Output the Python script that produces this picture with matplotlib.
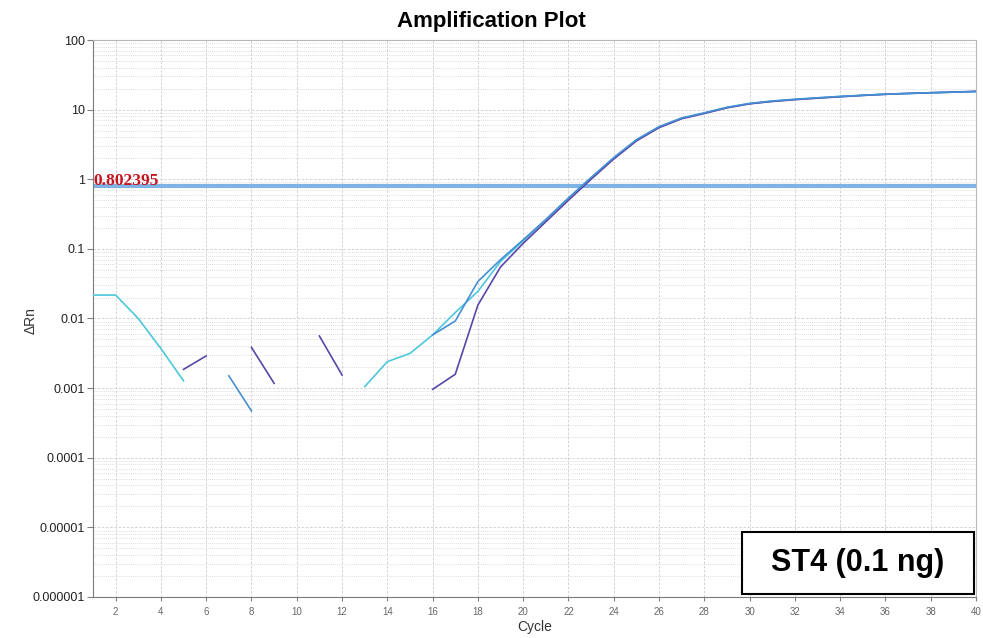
import numpy as np
import matplotlib
matplotlib.use("Agg")
import matplotlib.pyplot as plt
from matplotlib import ticker
from matplotlib.patches import Rectangle
from matplotlib import font_manager

nan = np.nan

cycles = list(range(1, 41))

# delta Rn per cycle; nan where the baseline-corrected value was <= 0
well_a = [0.0217, 0.0217, 0.0100, 0.0037, 0.00127, nan, nan, nan, nan, nan,
          nan, nan, 0.00105, 0.0024, 0.00315, 0.0058, 0.0122, 0.0245, 0.066, 0.13,
          0.26, 0.53, 1.04, 2.0, 3.6, 5.6, 7.5, 8.9, 10.7, 12.2,
          13.2, 14.0, 14.7, 15.4, 16.0, 16.6, 17.0, 17.4, 17.8, 18.2]
well_b = [nan, nan, nan, nan, nan, nan, 0.0015, 0.00047, nan, nan,
          nan, nan, nan, nan, nan, 0.0058, 0.0092, 0.034, 0.070, 0.135,
          0.265, 0.54, 1.06, 2.05, 3.7, 5.7, 7.6, 9.0, 10.8, 12.3,
          13.3, 14.1, 14.8, 15.5, 16.1, 16.7, 17.1, 17.5, 17.8, 18.2]
well_c = [nan, nan, nan, nan, 0.00186, 0.0029, nan, 0.00384, 0.00117, nan,
          0.0056, 0.00154, nan, nan, nan, 0.00096, 0.00158, 0.0156, 0.055, 0.12,
          0.245, 0.50, 1.0, 1.95, 3.55, 5.5, 7.4, 8.8, 10.6, 12.1,
          13.1, 13.9, 14.6, 15.3, 16.0, 16.6, 17.1, 17.5, 17.9, 18.3]

threshold = 0.802395
sample_name = "ST4 (0.1 ng)"

y_ticks = [1e-6, 1e-5, 1e-4, 1e-3, 1e-2, 1e-1, 1, 10, 100]
y_tick_labels = ["0.000001", "0.00001", "0.0001", "0.001", "0.01", "0.1", "1", "10", "100"]
x_ticks = list(range(2, 41, 2))

available = {f.name for f in font_manager.fontManager.ttflist}
sans = "Liberation Sans" if "Liberation Sans" in available else "DejaVu Sans"
serif = "Liberation Serif" if "Liberation Serif" in available else "DejaVu Serif"
plt.rcParams["font.family"] = [sans, "DejaVu Sans"]

fig = plt.figure(figsize=(9.83, 6.38), dpi=100)
ax = fig.add_axes([0.0946, 0.0643, 0.8983, 0.873])

ax.plot(cycles, well_a, color="#4cc8dc", lw=1.2, zorder=3)
ax.plot(cycles, well_c, color="#5a46a8", lw=1.2, zorder=4)
ax.plot(cycles, well_b, color="#4690d4", lw=1.2, zorder=5)

ax.axhline(threshold, color="#7fb2e5", lw=3.0, zorder=2)
ax.annotate(f"{threshold:g}", xy=(1, threshold), xytext=(0, 0.5),
            textcoords="offset points", ha="left", va="baseline",
            color="#c8141e", fontsize=12.5, fontweight="bold", family=serif, zorder=6)

ax.set_yscale("log")
ax.set_ylim(1e-6, 100)
ax.set_xlim(1, 40)

ax.yaxis.set_major_locator(ticker.FixedLocator(y_ticks))
ax.yaxis.set_major_formatter(ticker.FixedFormatter(y_tick_labels))
ax.yaxis.set_minor_locator(ticker.LogLocator(base=10, subs=np.arange(2, 10)))
ax.yaxis.set_minor_formatter(ticker.NullFormatter())
ax.set_xticks(x_ticks)

ax.grid(which="major", axis="both", color="#cccccc", lw=0.6, ls=(0, (3, 2)))
ax.grid(which="minor", axis="y", color="#d2d2d2", lw=0.6, ls=(0, (1, 1.5)))
ax.set_axisbelow(True)

ax.tick_params(axis="y", which="major", length=4, labelsize=9, color="#808080",
               labelcolor="#222222", pad=2)
ax.tick_params(axis="y", which="minor", length=0)
ax.tick_params(axis="x", length=3, labelsize=7, color="#808080",
               labelcolor="#666666", pad=4)

for side in ("left", "bottom"):
    ax.spines[side].set_color("#7a7a7a")
for side in ("top", "right"):
    ax.spines[side].set_color("#b8b8b8")

fig.text(0.5, 0.967, "Amplification Plot", ha="center", va="center",
         fontsize=16, fontweight="bold")
fig.text(0.544, 0.017, "Cycle", ha="center", va="center", fontsize=10, color="#333333")
fig.text(0.031, 0.498, "\u0394Rn", ha="center", va="center", rotation=90,
         fontsize=10, color="#333333")

# sample label box in the lower right corner
ax.add_patch(Rectangle((0.735, 0.0054), 0.263, 0.111, transform=ax.transAxes,
                       facecolor="white", edgecolor="black", lw=1.5, zorder=7))
ax.text(0.866, 0.061, sample_name, transform=ax.transAxes, ha="center", va="center",
        fontsize=22, fontweight="bold", color="black", zorder=8)

fig.savefig("out.png", dpi=100)
